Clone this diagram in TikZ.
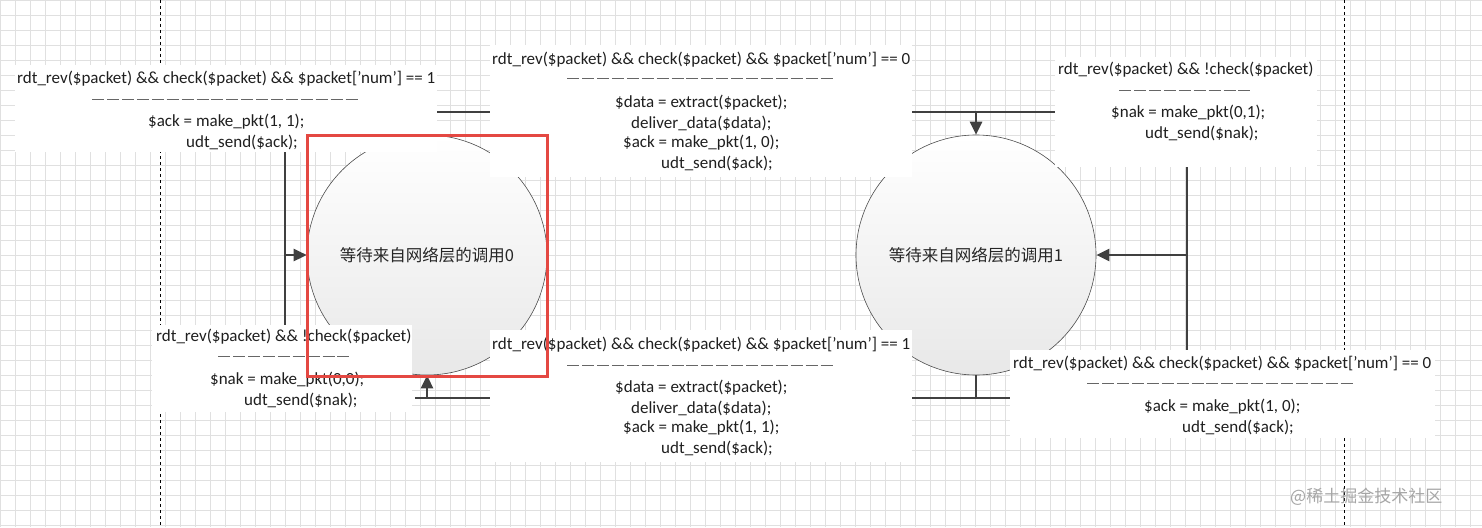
\documentclass[tikz,border=0pt]{standalone}
\usepackage{fontspec}
\setmainfont{Carlito}
\newfontfamily\cjk{Noto Sans CJK SC}
\usetikzlibrary{arrows.meta}
\definecolor{ln}{RGB}{64,64,64}
\definecolor{redbox}{RGB}{228,72,66}
\tikzset{
  txt/.style={anchor=west,inner sep=0pt,font=\fontsize{17}{20}\selectfont,text=black!88},
  dsh/.style={anchor=west,inner sep=0pt,text=black!60},
  wbox/.style={fill=white,draw=none},
  conn/.style={draw=ln,line width=2.6pt},
  arr/.style={conn,-{Triangle[length=13pt,width=12pt]}},
  state/.style={circle,draw=black!70,line width=0.6pt,minimum size=240pt,inner sep=0pt,
    top color=white,bottom color=black!9,font=\cjk\fontsize{16.5}{18}\selectfont,text=black!85}
}
\newcommand{\dashrow}[1]{\foreach \i in {1,...,#1}{\rule[0pt]{12pt}{0.7pt}\hspace{2.9pt}}}
\begin{document}
\begin{tikzpicture}[x=1pt,y=-1pt]
\useasboundingbox (0,0) rectangle (1482,527);
\fill[white] (0,0) rectangle (1482,527);
\draw[black!12,line width=0.5pt,step=15pt] (0,0) grid (1482,527);
\draw[black,dashed,line width=0.8pt] (160,0) -- (160,527);
\draw[black,dashed,line width=0.8pt] (1344,0) -- (1344,527);
% states
\node[state] (s0) at (427,255) {等待来自网络层的调用0};
\node[state] (s1) at (976,255) {等待来自网络层的调用1};
% connectors
\coordinate (tl) at (427,112);
\coordinate (tr) at (1060,112);
\coordinate (ta) at (976,112);
\draw[conn] (s0.north) -- (tl) -- (tr);
\draw[arr] (ta) -- (s1.north);
\coordinate (lt) at (285,140);
\coordinate (lb) at (285,330);
\coordinate (lm) at (285,255);
\draw[conn] (lt) -- (lb);
\draw[arr] (lm) -- (s0.west);
\coordinate (rt) at (1187,160);
\coordinate (rb) at (1187,355);
\coordinate (rm) at (1187,255);
\draw[conn] (rt) -- (rb);
\draw[arr] (rm) -- (s1.east);
\coordinate (bl) at (415,398);
\coordinate (br) at (1015,398);
\coordinate (bs) at (976,398);
\coordinate (ba) at (427,398);
\draw[conn] (br) -- (bl);
\draw[conn] (s1.south) -- (bs);
\draw[arr] (ba) -- (s0.south);
% label boxes
\fill[wbox] (15,65) rectangle (437,152);
\fill[wbox] (490,45) rectangle (912,177);
\fill[wbox] (1055,57) rectangle (1317,167);
\fill[wbox] (152,325) rectangle (412,412);
\fill[wbox] (490,330) rectangle (912,462);
\fill[wbox] (1010,350) rectangle (1435,438);
% box 1
\node[txt] (a1) at (17,79) {rdt\_rev(\$packet) \&\& check(\$packet) \&\& \$packet['num'] == 1};
\node[dsh] (a2) at (92,99) {\dashrow{18}};
\node[txt] (a3) at (148,122) {\$ack = make\_pkt(1, 1);};
\node[txt] (a4) at (186,142) {udt\_send(\$ack);};
% box 2
\node[txt] (b1) at (492,60) {rdt\_rev(\$packet) \&\& check(\$packet) \&\& \$packet['num'] == 0};
\node[dsh] (b2) at (567,78) {\dashrow{18}};
\node[txt] (b3) at (615,103) {\$data = extract(\$packet);};
\node[txt] (b4) at (631,123) {deliver\_data(\$data);};
\node[txt] (b5) at (623,143) {\$ack = make\_pkt(1, 0);};
\node[txt] (b6) at (661,163) {udt\_send(\$ack);};
% box 3
\node[txt] (c1) at (1058,70) {rdt\_rev(\$packet) \&\& !check(\$packet)};
\node[dsh] (c2) at (1119,90) {\dashrow{9}};
\node[txt] (c3) at (1111,113) {\$nak = make\_pkt(0,1);};
\node[txt] (c4) at (1145,133) {udt\_send(\$nak);};
% box 4
\node[txt] (d1) at (156,337) {rdt\_rev(\$packet) \&\& !check(\$packet)};
\node[dsh] (d2) at (218,356) {\dashrow{9}};
\node[txt] (d3) at (210,380) {\$nak = make\_pkt(0,0);};
\node[txt] (d4) at (244,400) {udt\_send(\$nak);};
% box 5
\node[txt] (e1) at (492,345) {rdt\_rev(\$packet) \&\& check(\$packet) \&\& \$packet['num'] == 1};
\node[dsh] (e2) at (567,365) {\dashrow{18}};
\node[txt] (e3) at (615,388) {\$data = extract(\$packet);};
\node[txt] (e4) at (631,408) {deliver\_data(\$data);};
\node[txt] (e5) at (623,428) {\$ack = make\_pkt(1, 1);};
\node[txt] (e6) at (661,448) {udt\_send(\$ack);};
% box 6
\node[txt] (f1) at (1013,364) {rdt\_rev(\$packet) \&\& check(\$packet) \&\& \$packet['num'] == 0};
\node[dsh] (f2) at (1087,383) {\dashrow{18}};
\node[txt] (f3) at (1144,407) {\$ack = make\_pkt(1, 0);};
\node[txt] (f4) at (1182,427) {udt\_send(\$ack);};
% highlight
\draw[redbox,line width=3pt] (307,135) rectangle (547,376);
% watermark
\node[anchor=west,inner sep=0pt,font=\cjk\fontsize{17}{18}\selectfont,text=black!35] (wm) at (1290,497) {@稀土掘金技术社区};
\end{tikzpicture}
\end{document}
